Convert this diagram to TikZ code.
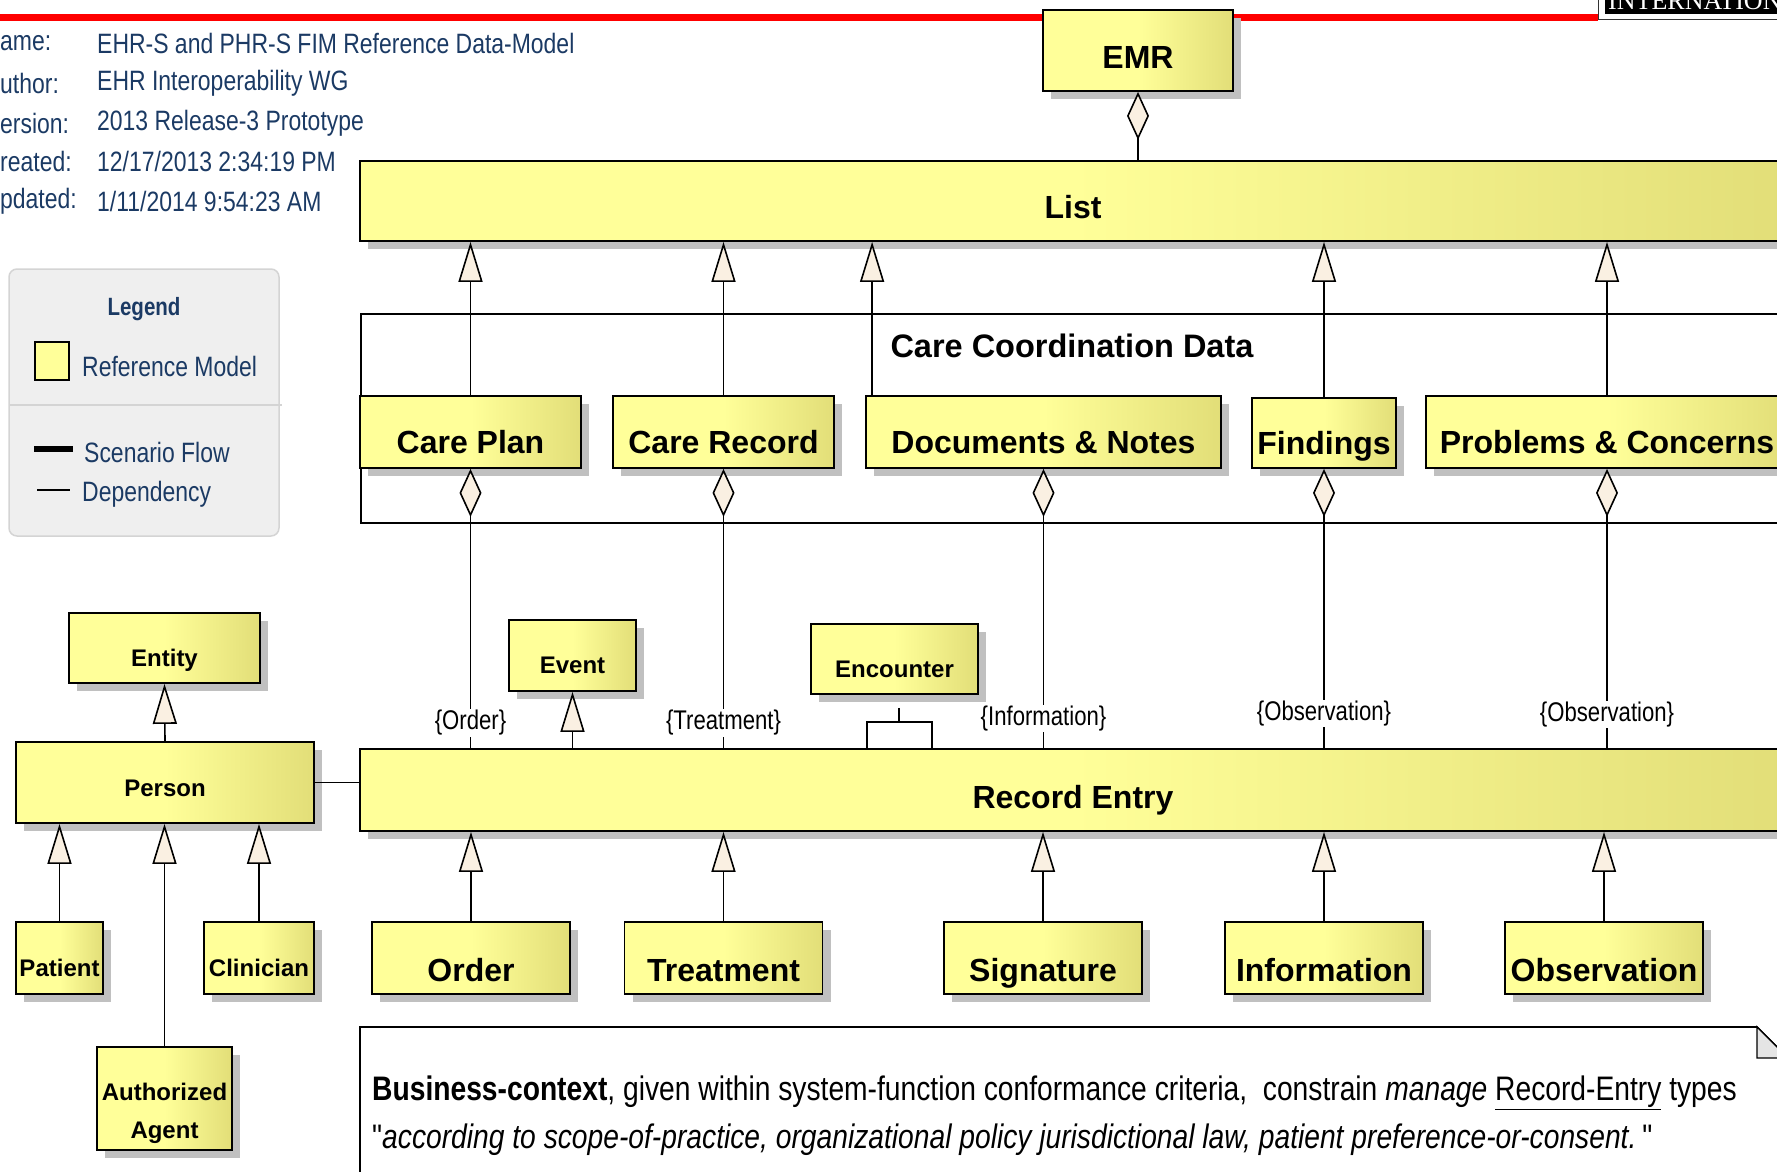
\documentclass[tikz,border=0pt]{standalone}
\usepackage{fontspec}
\setmainfont{Liberation Sans}
\newfontfamily\narrowfont[FakeStretch=0.82]{Liberation Sans}
\newfontfamily\notefont[FakeStretch=0.83]{Liberation Sans}
\newfontfamily\bannerfont{Liberation Serif}
\usepackage{tikz}
\definecolor{ylwlight}{HTML}{FFFF99}
\definecolor{ylwdark}{HTML}{E2DE78}
\definecolor{shadowgray}{HTML}{C0C0C0}
\definecolor{tipfill}{HTML}{FAF0E2}
\definecolor{navytext}{HTML}{1B3A64}
\definecolor{legendfill}{HTML}{EFEFEF}
\definecolor{legendline}{HTML}{D4D4D4}
\usetikzlibrary{arrows.meta, shadows}

\begin{document}
\begin{tikzpicture}[x=1pt, y=-1pt,
    umlbox/.style={draw, line width=1.8pt, left color=ylwlight, right color=ylwdark, middle color=ylwlight,
        general shadow={fill=shadowgray, shadow xshift=8pt, shadow yshift=-8pt}, inner sep=0pt, align=center},
    bigbox/.style={umlbox, text height=43pt, text depth=0pt, font=\fontsize{32}{36}\selectfont\bfseries},
    smallbox/.style={umlbox, text height=36pt, text depth=0pt, font=\fontsize{24}{38}\selectfont\bfseries},
    gen/.style={line width=1.6pt, -{Triangle[length=40pt, width=24pt, fill=tipfill]}},
    agg/.style={line width=1.6pt, -{Diamond[length=48pt, width=22pt, fill=tipfill]}},
    dep/.style={line width=1.6pt},
    tag/.style={fill=white, inner sep=1pt, font=\narrowfont\fontsize{27}{30}\selectfont},
    info/.style={anchor=west, text=navytext, inner sep=0pt, font=\narrowfont\fontsize{28}{32}\selectfont},
    notetext/.style={anchor=west, inner sep=0pt, font=\notefont\fontsize{34}{40}\selectfont},
]
\useasboundingbox (0,0) rectangle (1777,1172);
\clip (0,0) rectangle (1777,1172);

% title strip
\draw[red, line width=7pt] (0,18) -- (1598,18);
\node[draw=black!80, line width=1.2pt, fill=white, anchor=south west, minimum width=200pt, minimum height=40pt, inner sep=0pt] (bannerframe) at (1598,20) {};
\node[fill=black, anchor=south west, minimum width=200pt, minimum height=40pt, inner sep=0pt] (banner) at (1605,14) {};
\node[anchor=base west, text=white, inner sep=0pt, font=\bannerfont\fontsize{26}{26}\selectfont] (bannertext) at (1608,10) {INTERNATIONAL};

% diagram properties
\node[info] (namelbl) at (0,43) {ame:};
\node[info] (nameval) at (97,43) {EHR-S and PHR-S FIM Reference Data-Model};
\node[info] (authlbl) at (0,83) {uthor:};
\node[info] (authval) at (97,83) {EHR Interoperability WG};
\node[info] (verlbl) at (0,123) {ersion:};
\node[info] (verval) at (97,123) {2013 Release-3 Prototype};
\node[info] (crelbl) at (0,161) {reated:};
\node[info] (creval) at (97,161) {12/17/2013 2:34:19 PM};
\node[info] (updlbl) at (0,201) {pdated:};
\node[info] (updval) at (97,201) {1/11/2014 9:54:23 AM};

% legend
\node[draw=legendline, fill=legendfill, line width=1.5pt, rounded corners=8pt, minimum width=270pt, minimum height=267pt, inner sep=0pt] (legend) at (144,402.5) {};
\node[text=navytext, inner sep=0pt, font=\narrowfont\fontsize{25}{29}\selectfont\bfseries] (legendtitle) at (144,309) {Legend};
\node[draw, line width=1.5pt, fill=ylwlight, minimum width=34pt, minimum height=38pt, inner sep=0pt] (legendswatch) at (52,361) {};
\node[info] (legendref) at (82,366) {Reference Model};
\draw[legendline, line width=2pt] (9,405) -- (282,405);
\draw[line width=6pt] (34,449) -- (73,449);
\node[info] (legendflow) at (84,452) {Scenario Flow};
\draw[line width=1.5pt] (37,490) -- (70,490);
\node[info] (legenddep) at (82,494) {Dependency};

% top of the model
\node[bigbox, text height=35pt, minimum width=190pt, minimum height=81pt] (emr) at (1138,50.5) {EMR};
\node[bigbox, text height=35pt, minimum width=1426pt, minimum height=80pt] (list) at (1073,201) {List};

% care coordination data
\node[draw, line width=1.6pt, minimum width=1440pt, minimum height=209pt, inner sep=0pt, anchor=north west] (ccd) at (360,313) {};
\node[inner sep=0pt, font=\fontsize{32.5}{36}\selectfont\bfseries] (ccdlabel) at (1072,346) {Care Coordination Data};
\node[bigbox, minimum width=221pt, minimum height=72pt] (careplan) at (470.5,432) {Care Plan};
\node[bigbox, minimum width=221pt, minimum height=72pt] (carerecord) at (723.5,432) {Care Record};
\node[bigbox, minimum width=355pt, minimum height=72pt] (docnotes) at (1043.5,432) {Documents \& Notes};
\node[bigbox, minimum width=144pt, minimum height=70pt] (findings) at (1324,433) {Findings};
\node[bigbox, minimum width=362pt, minimum height=72pt] (problems) at (1607,432) {Problems \& Concerns};

% record entry and its types
\node[bigbox, text height=37pt, minimum width=1426pt, minimum height=82pt] (recordentry) at (1073,790) {Record Entry};
\node[smallbox, minimum width=127pt, minimum height=71pt] (event) at (572.5,655.5) {Event};
\node[smallbox, minimum width=167pt, minimum height=70pt] (encounter) at (894.5,659) {Encounter};
\node[bigbox, text height=47pt, minimum width=198pt, minimum height=72pt] (order) at (471,958) {Order};
\node[bigbox, text height=47pt, minimum width=198pt, minimum height=72pt] (treatment) at (723.5,958) {Treatment};
\node[bigbox, text height=47pt, minimum width=198pt, minimum height=72pt] (signature) at (1043,958) {Signature};
\node[bigbox, text height=47pt, minimum width=198pt, minimum height=72pt] (information) at (1324,958) {Information};
\node[bigbox, text height=47pt, minimum width=198pt, minimum height=72pt] (observation) at (1604,958) {Observation};

% parties
\node[smallbox, minimum width=191pt, minimum height=70pt] (entity) at (164.5,648) {Entity};
\node[smallbox, text height=27pt, minimum width=298pt, minimum height=81pt] (person) at (165,782.5) {Person};
\node[smallbox, minimum width=87pt, minimum height=72pt] (patient) at (59.5,958) {Patient};
\node[smallbox, minimum width=110pt, minimum height=72pt] (clinician) at (259,958) {Clinician};
\node[smallbox, text height=80pt, minimum width=135pt, minimum height=103pt] (agent) at (164.5,1098.5) {Authorized\\Agent};

% connectors
\draw[agg] (list.north -| emr.south) -- (emr.south);
\draw[gen] (careplan.north) -- (careplan.north |- list.south);
\draw[gen] (carerecord.north) -- (carerecord.north |- list.south);
\draw[gen] ([xshift=7pt]docnotes.north west) -- ([xshift=7pt]docnotes.north west |- list.south);
\draw[gen] (findings.north) -- (findings.north |- list.south);
\draw[gen] (problems.north) -- (problems.north |- list.south);

\draw[agg] (careplan.south |- recordentry.north) -- node[tag, pos=0.09] {\{Order\}} (careplan.south);
\draw[agg] (carerecord.south |- recordentry.north) -- node[tag, pos=0.09] {\{Treatment\}} (carerecord.south);
\draw[agg] (docnotes.south |- recordentry.north) -- node[tag, pos=0.105] {\{Information\}} (docnotes.south);
\draw[agg] (findings.south |- recordentry.north) -- node[tag, pos=0.125] {\{Observation\}} (findings.south);
\draw[agg] (problems.south |- recordentry.north) -- node[tag, pos=0.12] {\{Observation\}} (problems.south);

\draw[gen] (event.south |- recordentry.north) -- (event.south);
\coordinate (encfork) at (899,722);
\coordinate (encleft) at (867,749);
\coordinate (encright) at (932,749);
\draw[dep] ([yshift=-13pt]encounter.south -| encfork) -- (encfork);
\draw[dep] (encleft) |- (encfork) -| (encright);

\draw[gen] (order.north) -- (order.north |- recordentry.south);
\draw[gen] (treatment.north) -- (treatment.north |- recordentry.south);
\draw[gen] (signature.north) -- (signature.north |- recordentry.south);
\draw[gen] (information.north) -- (information.north |- recordentry.south);
\draw[gen] (observation.north) -- (observation.north |- recordentry.south);

\draw[gen] (person.north) -- (entity.south);
\draw[gen] (patient.north) -- (patient.north |- person.south);
\draw[gen] (agent.north) -- (agent.north |- person.south);
\draw[gen] (clinician.north) -- (clinician.north |- person.south);
\draw[dep] (person.east) -- (person.east -| recordentry.west);

% business context note
\draw[line width=1.6pt, fill=white] (360,1190) -- (360,1027) -- (1757,1027) -- (1795,1065) -- (1795,1190);
\filldraw[line width=1.4pt, fill=black!10] (1757,1027) -- (1757,1058) -- (1788,1058) -- cycle;
\node[notetext] (noteline1) at (372,1093) {\textbf{Business-context}, given within system-function conformance criteria,\ \ constrain \textit{manage} \underline{Record-Entry} types};
\node[notetext] (noteline2) at (372,1140) {"\textit{according to scope-of-practice, organizational policy jurisdictional law, patient preference-or-consent.}\,"};
\end{tikzpicture}
\end{document}
